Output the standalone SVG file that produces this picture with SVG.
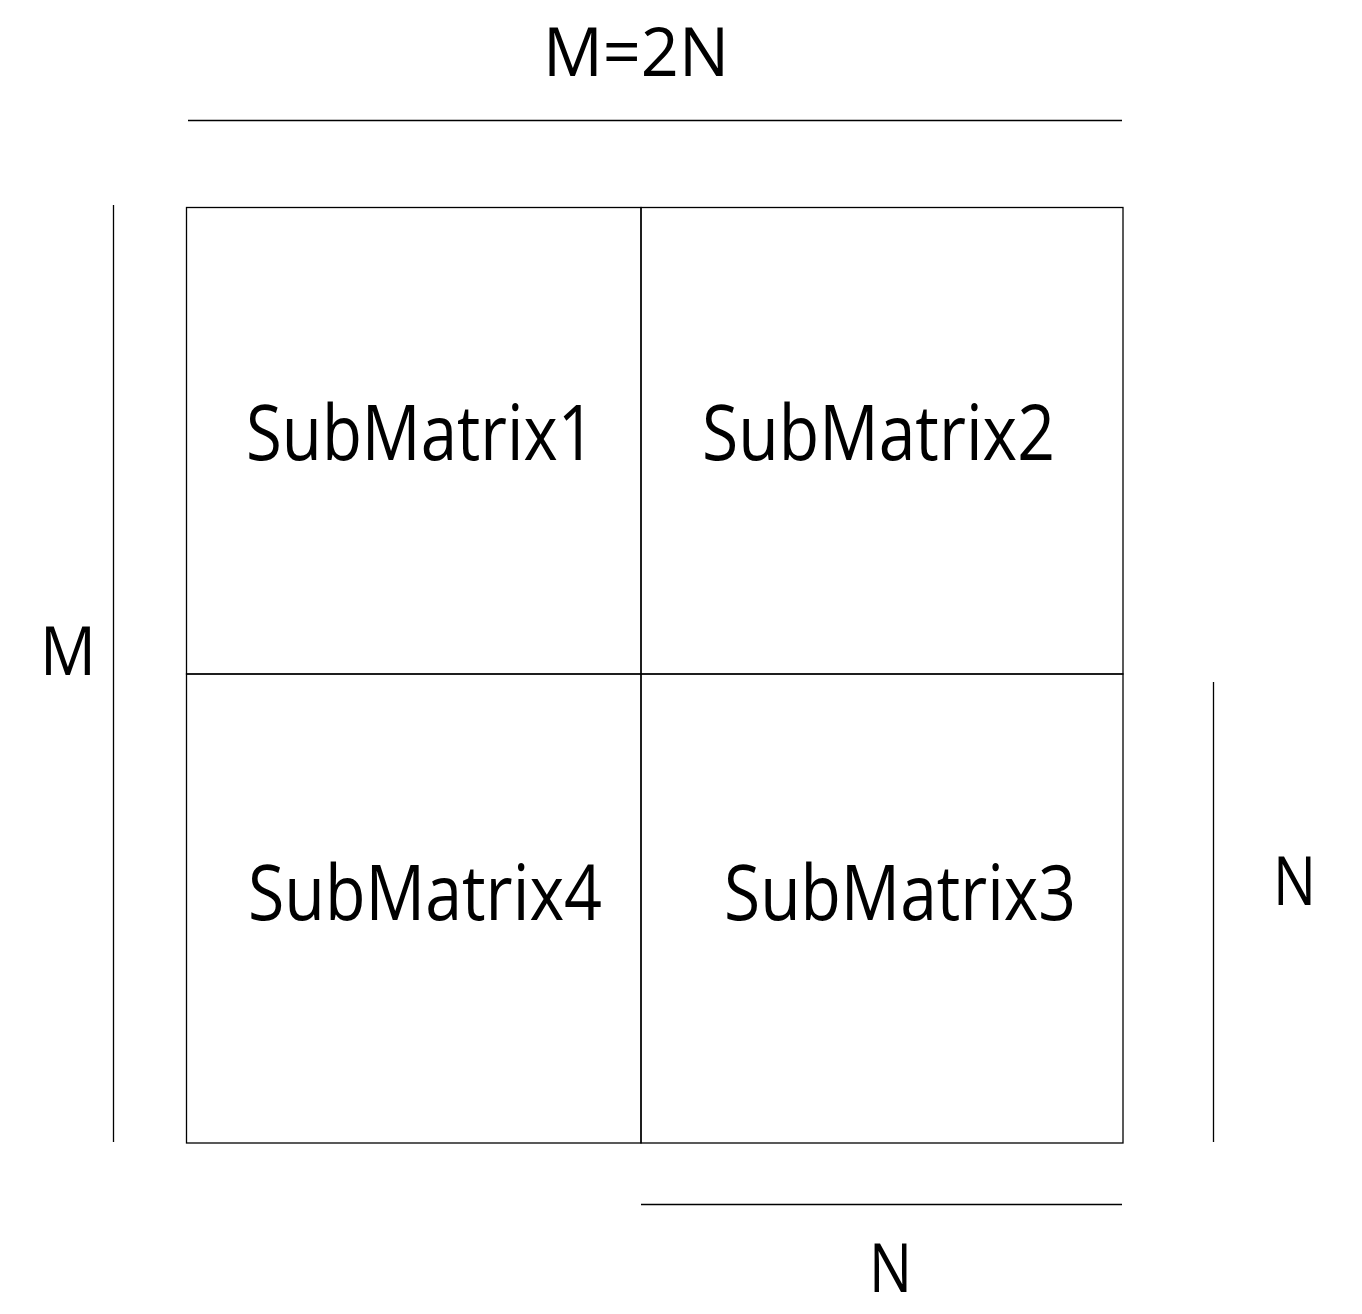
<svg xmlns="http://www.w3.org/2000/svg" width="1362" height="1314" viewBox="0 0 1362 1314">
<style>
.ln{stroke:#000;stroke-width:1.3;fill:none}
.lbl{font-family:"Open Sans","Noto Sans",sans-serif;fill:#000}
.big{font-size:76px}
.dim{font-size:68px}
</style>
<rect width="1362" height="1314" fill="#fff"/>
<g id="connectors">
<line class="ln" x1="188" y1="120.5" x2="1122" y2="120.5"/>
<line class="ln" x1="113.5" y1="205" x2="113.5" y2="1142"/>
<line class="ln" x1="1213.5" y1="682" x2="1213.5" y2="1142"/>
<line class="ln" x1="641" y1="1204.5" x2="1122" y2="1204.5"/>
</g>
<g id="sub1"><rect class="ln" x="186.5" y="207.5" width="454.5" height="466.5"/><text class="lbl big" x="246" y="460" textLength="349" lengthAdjust="spacingAndGlyphs">SubMatrix1</text></g>
<g id="sub2"><rect class="ln" x="641" y="207.5" width="482" height="466.5"/><text class="lbl big" x="702" y="460" textLength="353" lengthAdjust="spacingAndGlyphs">SubMatrix2</text></g>
<g id="sub4"><rect class="ln" x="186.5" y="674" width="454.5" height="469"/><text class="lbl big" x="248" y="920" textLength="354" lengthAdjust="spacingAndGlyphs">SubMatrix4</text></g>
<g id="sub3"><rect class="ln" x="641" y="674" width="482" height="469"/><text class="lbl big" x="724" y="920" textLength="352" lengthAdjust="spacingAndGlyphs">SubMatrix3</text></g>
<g id="labels">
<text class="lbl dim" x="543" y="76" textLength="186" lengthAdjust="spacingAndGlyphs">M=2N</text>
<text class="lbl dim" x="40" y="675" textLength="56" lengthAdjust="spacingAndGlyphs">M</text>
<text class="lbl dim" x="1273" y="905" textLength="43" lengthAdjust="spacingAndGlyphs">N</text>
<text class="lbl dim" x="869" y="1292" textLength="43" lengthAdjust="spacingAndGlyphs">N</text>
</g>
</svg>
